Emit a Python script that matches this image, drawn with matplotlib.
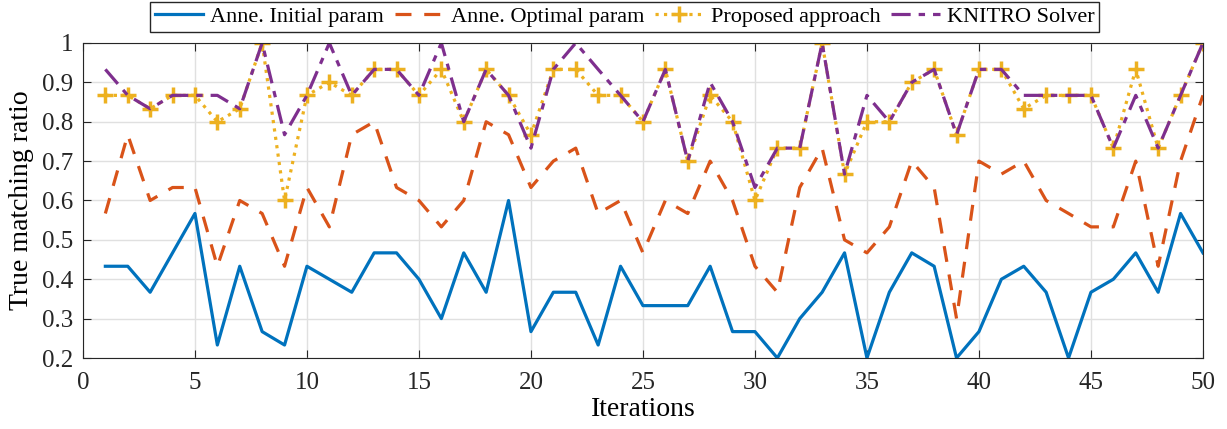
import matplotlib.pyplot as plt

plt.rcParams['font.family'] = ['Liberation Serif', 'DejaVu Serif']
plt.rcParams['mathtext.fontset'] = 'stix'

iterations = list(range(1, 51))

initial = [0.433, 0.433, 0.367, 0.467, 0.567, 0.233, 0.433, 0.267, 0.233, 0.433,
           0.400, 0.367, 0.467, 0.467, 0.400, 0.300, 0.467, 0.367, 0.600, 0.267,
           0.367, 0.367, 0.233, 0.433, 0.333, 0.333, 0.333, 0.433, 0.267, 0.267,
           0.200, 0.300, 0.367, 0.467, 0.200, 0.367, 0.467, 0.433, 0.200, 0.267,
           0.400, 0.433, 0.367, 0.200, 0.367, 0.400, 0.467, 0.367, 0.567, 0.467]

optimal = [0.567, 0.767, 0.600, 0.633, 0.633, 0.433, 0.600, 0.567, 0.433, 0.633,
           0.533, 0.767, 0.800, 0.633, 0.600, 0.533, 0.600, 0.800, 0.767, 0.633,
           0.700, 0.733, 0.567, 0.600, 0.467, 0.600, 0.567, 0.700, 0.600, 0.433,
           0.367, 0.633, 0.733, 0.500, 0.467, 0.533, 0.700, 0.633, 0.300, 0.700,
           0.667, 0.700, 0.600, 0.567, 0.533, 0.533, 0.700, 0.433, 0.700, 0.867]

proposed = [0.867, 0.867, 0.833, 0.867, 0.867, 0.800, 0.833, 1.000, 0.600, 0.867,
            0.900, 0.867, 0.933, 0.933, 0.867, 0.933, 0.800, 0.933, 0.867, 0.767,
            0.933, 0.933, 0.867, 0.867, 0.800, 0.933, 0.700, 0.867, 0.800, 0.600,
            0.733, 0.733, 1.000, 0.667, 0.800, 0.800, 0.900, 0.933, 0.767, 0.933,
            0.933, 0.833, 0.867, 0.867, 0.867, 0.733, 0.933, 0.733, 0.867, 1.000]

knitro = [0.933, 0.867, 0.833, 0.867, 0.867, 0.867, 0.833, 1.000, 0.767, 0.867,
          1.000, 0.867, 0.933, 0.933, 0.867, 1.000, 0.800, 0.933, 0.867, 0.733,
          0.933, 1.000, 0.933, 0.867, 0.800, 0.933, 0.700, 0.900, 0.800, 0.633,
          0.733, 0.733, 1.000, 0.667, 0.867, 0.800, 0.900, 0.933, 0.767, 0.933,
          0.933, 0.867, 0.867, 0.867, 0.867, 0.733, 0.867, 0.733, 0.867, 1.000]

fig = plt.figure(figsize=(12.27, 4.29), dpi=100)
ax = fig.add_axes([0.0676, 0.1655, 0.9128, 0.7343])

ax.plot(iterations, initial, '-', color='#0072BD', lw=2.3, label='Anne. Initial param')
ax.plot(iterations, optimal, '--', color='#D95319', lw=2.3, dashes=(5, 4), label='Anne. Optimal param')
ax.plot(iterations, proposed, ':', color='#EDB120', lw=2.3, marker='+', ms=11, mew=2.5,
        label='Proposed approach')
ax.plot(iterations, knitro, '-.', color='#7E2F8E', lw=2.3, dashes=(6, 2.5, 2, 2.5), label='KNITRO Solver')

ax.set_xlim(0, 50)
ax.set_ylim(0.2, 1)
ax.set_xticks(range(0, 51, 5))
ax.set_yticks([0.2, 0.3, 0.4, 0.5, 0.6, 0.7, 0.8, 0.9, 1.0])
ax.set_yticklabels(['0.2', '0.3', '0.4', '0.5', '0.6', '0.7', '0.8', '0.9', '1'])
ax.grid(True, color='#e0e0e0', lw=1)
ax.set_axisbelow(True)
ax.tick_params(direction='in', labelsize=18, length=6, top=True, right=True, colors='#262626')
ax.tick_params(axis='x', pad=10)
ax.tick_params(axis='y', pad=7)
for s in ax.spines.values():
    s.set_color('#262626')
ax.set_xlabel('Iterations', fontsize=20, labelpad=2)
ax.set_ylabel('True matching ratio', fontsize=20, labelpad=6)

leg = fig.legend(loc='upper center', bbox_to_anchor=(0.509, 1.0), ncol=4, fontsize=16,
                 frameon=True, fancybox=False, edgecolor='#262626', framealpha=1,
                 handlelength=2.2, handletextpad=0.3, columnspacing=0.5,
                 borderpad=0.2, borderaxespad=0.1)
leg.get_frame().set_linewidth(1)

fig.savefig('out.png', dpi=100)
